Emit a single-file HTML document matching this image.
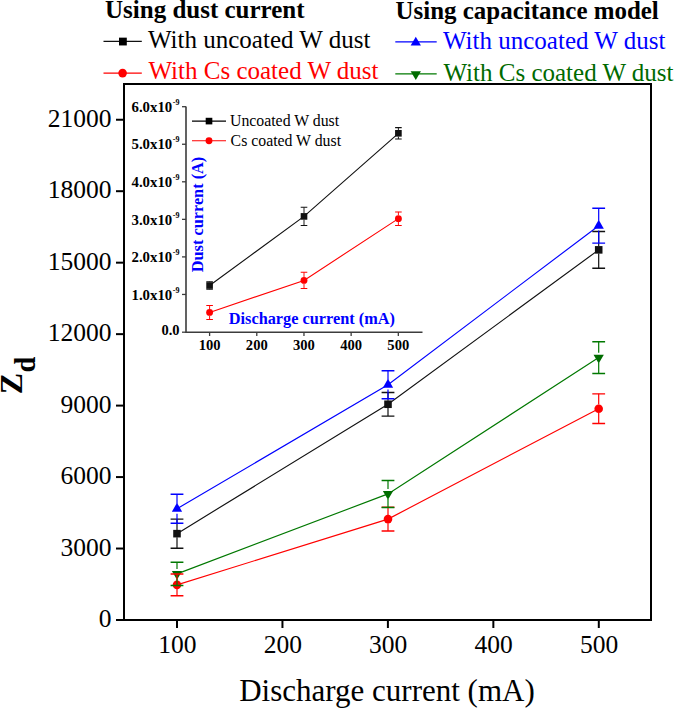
<!DOCTYPE html><html><head><meta charset="utf-8"><style>html,body{margin:0;padding:0;background:#fff;}svg{display:block;}text{font-family:"Liberation Serif",serif;}</style></head><body>
<svg width="675" height="708" viewBox="0 0 675 708">
<rect x="0" y="0" width="675" height="708" fill="#fff"/>
<rect x="124" y="84" width="527" height="536" fill="none" stroke="#000" stroke-width="2"/>
<line x1="116" y1="620.00" x2="124" y2="620.00" stroke="#000" stroke-width="2"/>
<text x="111.6" y="627.20" font-size="25.5" text-anchor="end">0</text>
<line x1="116" y1="548.53" x2="124" y2="548.53" stroke="#000" stroke-width="2"/>
<text x="111.6" y="555.73" font-size="25.5" text-anchor="end">3000</text>
<line x1="116" y1="477.07" x2="124" y2="477.07" stroke="#000" stroke-width="2"/>
<text x="111.6" y="484.27" font-size="25.5" text-anchor="end">6000</text>
<line x1="116" y1="405.60" x2="124" y2="405.60" stroke="#000" stroke-width="2"/>
<text x="111.6" y="412.80" font-size="25.5" text-anchor="end">9000</text>
<line x1="116" y1="334.14" x2="124" y2="334.14" stroke="#000" stroke-width="2"/>
<text x="111.6" y="341.34" font-size="25.5" text-anchor="end">12000</text>
<line x1="116" y1="262.67" x2="124" y2="262.67" stroke="#000" stroke-width="2"/>
<text x="111.6" y="269.87" font-size="25.5" text-anchor="end">15000</text>
<line x1="116" y1="191.20" x2="124" y2="191.20" stroke="#000" stroke-width="2"/>
<text x="111.6" y="198.40" font-size="25.5" text-anchor="end">18000</text>
<line x1="116" y1="119.74" x2="124" y2="119.74" stroke="#000" stroke-width="2"/>
<text x="111.6" y="126.94" font-size="25.5" text-anchor="end">21000</text>
<line x1="177.00" y1="620" x2="177.00" y2="628" stroke="#000" stroke-width="2"/>
<text x="177.30" y="652.6" font-size="25.5" text-anchor="middle">100</text>
<line x1="282.45" y1="620" x2="282.45" y2="628" stroke="#000" stroke-width="2"/>
<text x="282.75" y="652.6" font-size="25.5" text-anchor="middle">200</text>
<line x1="387.90" y1="620" x2="387.90" y2="628" stroke="#000" stroke-width="2"/>
<text x="388.20" y="652.6" font-size="25.5" text-anchor="middle">300</text>
<line x1="493.35" y1="620" x2="493.35" y2="628" stroke="#000" stroke-width="2"/>
<text x="493.65" y="652.6" font-size="25.5" text-anchor="middle">400</text>
<line x1="598.80" y1="620" x2="598.80" y2="628" stroke="#000" stroke-width="2"/>
<text x="599.10" y="652.6" font-size="25.5" text-anchor="middle">500</text>
<text x="387" y="701.3" font-size="31" text-anchor="middle">Discharge current (mA)</text>
<text transform="translate(21.7,394.2) rotate(-90)" font-size="32" font-weight="bold">Z<tspan dx="0.3" dy="12.8" font-size="28.5">d</tspan></text>
<polyline points="177.00,533.65 388.00,404.25 598.70,249.85" fill="none" stroke="#111" stroke-width="1.15"/>
<polyline points="177.00,584.85 388.00,519.10 598.70,408.70" fill="none" stroke="#ff0000" stroke-width="1.15"/>
<polyline points="177.00,508.75 388.00,384.70 598.70,225.70" fill="none" stroke="#0000ff" stroke-width="1.15"/>
<polyline points="177.00,573.85 388.00,493.90 598.70,357.60" fill="none" stroke="#007800" stroke-width="1.15"/>
<rect x="173.22" y="529.87" width="7.57" height="7.57" fill="#111"/><rect x="384.22" y="400.47" width="7.57" height="7.57" fill="#111"/><rect x="594.92" y="246.07" width="7.57" height="7.57" fill="#111"/>
<circle cx="177.00" cy="584.85" r="4.30" fill="#ff0000"/><circle cx="388.00" cy="519.10" r="4.30" fill="#ff0000"/><circle cx="598.70" cy="408.70" r="4.30" fill="#ff0000"/>
<polygon points="177.00,502.82 182.15,511.72 171.85,511.72" fill="#0000ff"/><polygon points="388.00,378.77 393.15,387.67 382.85,387.67" fill="#0000ff"/><polygon points="598.70,219.77 603.85,228.67 593.55,228.67" fill="#0000ff"/>
<polygon points="177.00,579.78 182.15,570.88 171.85,570.88" fill="#006c00"/><polygon points="388.00,499.83 393.15,490.93 382.85,490.93" fill="#006c00"/><polygon points="598.70,363.53 603.85,354.63 593.55,354.63" fill="#006c00"/>
<path d="M177.00,519.10V530.05M177.00,537.25V548.20" stroke="#111" stroke-width="1.2" fill="none"/><path d="M170.60,519.10H183.40M170.60,548.20H183.40" stroke="#111" stroke-width="1.45" fill="none"/><path d="M388.00,392.40V400.65M388.00,407.85V416.10" stroke="#111" stroke-width="1.2" fill="none"/><path d="M381.60,392.40H394.40M381.60,416.10H394.40" stroke="#111" stroke-width="1.45" fill="none"/><path d="M598.70,231.40V246.25M598.70,253.45V268.30" stroke="#111" stroke-width="1.2" fill="none"/><path d="M592.30,231.40H605.10M592.30,268.30H605.10" stroke="#111" stroke-width="1.45" fill="none"/>
<path d="M177.00,573.90V580.65M177.00,589.05V595.80" stroke="#ff0000" stroke-width="1.2" fill="none"/><path d="M170.60,573.90H183.40M170.60,595.80H183.40" stroke="#ff0000" stroke-width="1.45" fill="none"/><path d="M388.00,507.20V514.90M388.00,523.30V531.00" stroke="#ff0000" stroke-width="1.2" fill="none"/><path d="M381.60,507.20H394.40M381.60,531.00H394.40" stroke="#ff0000" stroke-width="1.45" fill="none"/><path d="M598.70,393.85V404.50M598.70,412.90V423.55" stroke="#ff0000" stroke-width="1.2" fill="none"/><path d="M592.30,393.85H605.10M592.30,423.55H605.10" stroke="#ff0000" stroke-width="1.45" fill="none"/>
<path d="M177.00,494.20V503.85M177.00,513.65V523.30" stroke="#0000ff" stroke-width="1.2" fill="none"/><path d="M170.60,494.20H183.40M170.60,523.30H183.40" stroke="#0000ff" stroke-width="1.45" fill="none"/><path d="M388.00,370.70V379.80M388.00,389.60V398.70" stroke="#0000ff" stroke-width="1.2" fill="none"/><path d="M381.60,370.70H394.40M381.60,398.70H394.40" stroke="#0000ff" stroke-width="1.45" fill="none"/><path d="M598.70,208.30V220.80M598.70,230.60V243.10" stroke="#0000ff" stroke-width="1.2" fill="none"/><path d="M592.30,208.30H605.10M592.30,243.10H605.10" stroke="#0000ff" stroke-width="1.45" fill="none"/>
<path d="M177.00,562.20V568.95M177.00,578.75V585.50" stroke="#007800" stroke-width="1.2" fill="none"/><path d="M170.60,562.20H183.40M170.60,585.50H183.40" stroke="#007800" stroke-width="1.45" fill="none"/><path d="M388.00,480.40V489.00M388.00,498.80V507.40" stroke="#007800" stroke-width="1.2" fill="none"/><path d="M381.60,480.40H394.40M381.60,507.40H394.40" stroke="#007800" stroke-width="1.45" fill="none"/><path d="M598.70,341.70V352.70M598.70,362.50V373.50" stroke="#007800" stroke-width="1.2" fill="none"/><path d="M592.30,341.70H605.10M592.30,373.50H605.10" stroke="#007800" stroke-width="1.45" fill="none"/>
<path d="M186,106.5V332.2H422.5" fill="none" stroke="#3c3c3c" stroke-width="1.6"/>
<line x1="182" y1="332.20" x2="186" y2="332.20" stroke="#3c3c3c" stroke-width="1.3"/>
<text x="179.5" y="334.90" font-size="14.5" font-weight="bold" text-anchor="end">0.0</text>
<line x1="182" y1="294.45" x2="186" y2="294.45" stroke="#3c3c3c" stroke-width="1.3"/>
<text x="172.2" y="299.65" font-size="14.8" font-weight="bold" text-anchor="end">1.0x10</text>
<text x="172.8" y="292.65" font-size="8" font-weight="bold">-9</text>
<line x1="182" y1="256.90" x2="186" y2="256.90" stroke="#3c3c3c" stroke-width="1.3"/>
<text x="172.2" y="262.10" font-size="14.8" font-weight="bold" text-anchor="end">2.0x10</text>
<text x="172.8" y="255.10" font-size="8" font-weight="bold">-9</text>
<line x1="182" y1="219.35" x2="186" y2="219.35" stroke="#3c3c3c" stroke-width="1.3"/>
<text x="172.2" y="224.55" font-size="14.8" font-weight="bold" text-anchor="end">3.0x10</text>
<text x="172.8" y="217.55" font-size="8" font-weight="bold">-9</text>
<line x1="182" y1="181.80" x2="186" y2="181.80" stroke="#3c3c3c" stroke-width="1.3"/>
<text x="172.2" y="187.00" font-size="14.8" font-weight="bold" text-anchor="end">4.0x10</text>
<text x="172.8" y="180.00" font-size="8" font-weight="bold">-9</text>
<line x1="182" y1="144.25" x2="186" y2="144.25" stroke="#3c3c3c" stroke-width="1.3"/>
<text x="172.2" y="149.45" font-size="14.8" font-weight="bold" text-anchor="end">5.0x10</text>
<text x="172.8" y="142.45" font-size="8" font-weight="bold">-9</text>
<line x1="182" y1="106.70" x2="186" y2="106.70" stroke="#3c3c3c" stroke-width="1.3"/>
<text x="172.2" y="111.90" font-size="14.8" font-weight="bold" text-anchor="end">6.0x10</text>
<text x="172.8" y="104.90" font-size="8" font-weight="bold">-9</text>
<line x1="209.60" y1="332" x2="209.60" y2="336" stroke="#3c3c3c" stroke-width="1.3"/>
<text x="209.60" y="349.8" font-size="14.6" font-weight="bold" text-anchor="middle">100</text>
<line x1="256.78" y1="332" x2="256.78" y2="336" stroke="#3c3c3c" stroke-width="1.3"/>
<text x="256.78" y="349.8" font-size="14.6" font-weight="bold" text-anchor="middle">200</text>
<line x1="303.96" y1="332" x2="303.96" y2="336" stroke="#3c3c3c" stroke-width="1.3"/>
<text x="303.96" y="349.8" font-size="14.6" font-weight="bold" text-anchor="middle">300</text>
<line x1="351.14" y1="332" x2="351.14" y2="336" stroke="#3c3c3c" stroke-width="1.3"/>
<text x="351.14" y="349.8" font-size="14.6" font-weight="bold" text-anchor="middle">400</text>
<line x1="398.32" y1="332" x2="398.32" y2="336" stroke="#3c3c3c" stroke-width="1.3"/>
<text x="398.32" y="349.8" font-size="14.6" font-weight="bold" text-anchor="middle">500</text>
<text x="228.8" y="324.1" font-size="16.3" font-weight="bold" fill="#0000ff">Discharge current (mA)</text>
<text transform="translate(203.2,272.2) rotate(-90)" font-size="16.3" font-weight="bold" fill="#0000ff">Dust current (A)</text>
<polyline points="209.60,285.50 304.00,216.40 398.40,133.30" fill="none" stroke="#111" stroke-width="1.1"/>
<polyline points="209.60,312.40 304.00,280.40 398.40,218.65" fill="none" stroke="#ff0000" stroke-width="1.1"/>
<rect x="206.28" y="282.19" width="6.63" height="6.63" fill="#111"/><rect x="300.69" y="213.09" width="6.63" height="6.63" fill="#111"/><rect x="395.08" y="129.99" width="6.63" height="6.63" fill="#111"/>
<circle cx="209.60" cy="312.40" r="3.44" fill="#ff0000"/><circle cx="304.00" cy="280.40" r="3.44" fill="#ff0000"/><circle cx="398.40" cy="218.65" r="3.44" fill="#ff0000"/>
<path d="M209.60,281.70V282.20M209.60,288.80V289.30" stroke="#111" stroke-width="0.95" fill="none"/><path d="M206.30,281.70H212.90M206.30,289.30H212.90" stroke="#111" stroke-width="1.05" fill="none"/><path d="M304.00,207.30V213.10M304.00,219.70V225.50" stroke="#111" stroke-width="0.95" fill="none"/><path d="M300.70,207.30H307.30M300.70,225.50H307.30" stroke="#111" stroke-width="1.05" fill="none"/><path d="M398.40,127.60V130.00M398.40,136.60V139.00" stroke="#111" stroke-width="0.95" fill="none"/><path d="M395.10,127.60H401.70M395.10,139.00H401.70" stroke="#111" stroke-width="1.05" fill="none"/>
<path d="M209.60,305.40V309.10M209.60,315.70V319.40" stroke="#ff0000" stroke-width="0.95" fill="none"/><path d="M206.30,305.40H212.90M206.30,319.40H212.90" stroke="#ff0000" stroke-width="1.05" fill="none"/><path d="M304.00,272.30V277.10M304.00,283.70V288.50" stroke="#ff0000" stroke-width="0.95" fill="none"/><path d="M300.70,272.30H307.30M300.70,288.50H307.30" stroke="#ff0000" stroke-width="1.05" fill="none"/><path d="M398.40,211.90V215.35M398.40,221.95V225.40" stroke="#ff0000" stroke-width="0.95" fill="none"/><path d="M395.10,211.90H401.70M395.10,225.40H401.70" stroke="#ff0000" stroke-width="1.05" fill="none"/>
<line x1="192" y1="121.1" x2="226" y2="121.1" stroke="#000000" stroke-width="1.1"/><rect x="205.69" y="117.78" width="6.63" height="6.63" fill="#000000"/>
<text x="230" y="125.8" font-size="15.8">Uncoated W dust</text>
<line x1="192" y1="140.8" x2="226" y2="140.8" stroke="#ff0000" stroke-width="1.1"/><circle cx="209.00" cy="140.80" r="3.44" fill="#ff0000"/>
<text x="230.6" y="145.9" font-size="15.8">Cs coated W dust</text>
<text x="105" y="17.8" font-size="24.4" font-weight="bold" textLength="199.56" lengthAdjust="spacingAndGlyphs">Using dust current</text>
<line x1="103.5" y1="41.3" x2="141.8" y2="41.3" stroke="#111" stroke-width="1.2"/><rect x="119.00" y="37.65" width="7.80" height="7.80" fill="#000000"/>
<text x="148" y="47.5" font-size="25">With uncoated W dust</text>
<line x1="103.5" y1="73.1" x2="141.8" y2="73.1" stroke="#ff0000" stroke-width="1.2"/><circle cx="122.60" cy="73.10" r="4.30" fill="#ff0000"/>
<text x="148.5" y="79" font-size="25" fill="#ff0000">With Cs coated W dust</text>
<text x="395.6" y="18.7" font-size="24.4" font-weight="bold" textLength="263.2" lengthAdjust="spacingAndGlyphs">Using capacitance model</text>
<line x1="395.3" y1="41.9" x2="436.7" y2="41.9" stroke="#0000ff" stroke-width="1.2"/><polygon points="415.80,36.67 420.95,45.57 410.65,45.57" fill="#0000ff"/>
<text x="443" y="48.8" font-size="25" fill="#0000ff">With uncoated W dust</text>
<line x1="395.3" y1="73.9" x2="436.7" y2="73.9" stroke="#007800" stroke-width="1.2"/><polygon points="415.80,80.03 420.95,71.13 410.65,71.13" fill="#006c00"/>
<text x="443.5" y="80.6" font-size="25" fill="#006a00">With Cs coated W dust</text>
</svg></body></html>
